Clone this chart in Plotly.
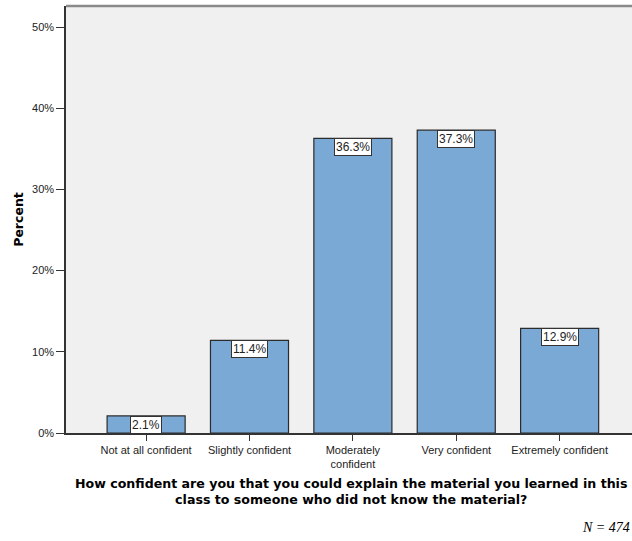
import plotly.graph_objects as go

categories = ["Not at all confident", "Slightly confident", "Moderately<br>confident",
              "Very confident", "Extremely confident"]
percents = [2.1, 11.4, 36.3, 37.3, 12.9]
y_ticks = [0, 10, 20, 30, 40, 50]
y_tick_labels = ["0%", "10%", "20%", "30%", "40%", "50%"]
x_title = ("How confident are you that you could explain the material you learned in this<br>"
           "class to someone who did not know the material?")
n_note = "N = 474"

fig = go.Figure()
fig.add_trace(go.Bar(
    x=categories, y=percents,
    marker=dict(color="#7BA9D6", line=dict(color="#2b2b2b", width=1.2)),
    width=0.755, hoverinfo="skip",
))

for c, v in zip(categories, percents):
    fig.add_annotation(x=c, y=v, xref="x", yref="y", yanchor="top", yshift=0,
                       text=f"{v:.1f}%", showarrow=False,
                       bgcolor="white", bordercolor="#333333", borderwidth=1, borderpad=1,
                       font=dict(family="Liberation Sans, Arial", size=12, color="#222"))

fig.add_annotation(x=0.503, y=-0.095, xref="paper", yref="paper", xanchor="center", yanchor="top",
                   text="<b>" + x_title + "</b>", showarrow=False,
                   font=dict(family="DejaVu Sans", size=12.6, color="black"))
fig.add_annotation(x=1.0, y=-0.2, xref="paper", yref="paper", xanchor="right", yanchor="top",
                   text="<i>" + n_note + "</i>", showarrow=False,
                   font=dict(family="Liberation Serif", size=14, color="black"))

fig.add_shape(type="line", xref="paper", yref="paper", x0=0, x1=1, y0=1, y1=1,
              line=dict(color="#8a8a8a", width=2.5))

fig.update_layout(
    width=632, height=541,
    margin=dict(l=66, r=0, t=6, b=108),
    paper_bgcolor="white", plot_bgcolor="#F0F0F0",
    showlegend=False,
    font=dict(family="Liberation Sans, Arial", color="#222"),
    xaxis=dict(type="category", range=[-0.775, 4.70], showgrid=False,
               showline=True, linecolor="#333", linewidth=1.5,
               ticks="outside", ticklen=6, tickcolor="#333",
               tickfont=dict(size=11, color="#222"), fixedrange=True),
    yaxis=dict(range=[0, 52.6], tickvals=y_ticks, ticktext=y_tick_labels,
               showgrid=False, zeroline=False, fixedrange=True,
               showline=True, linecolor="#333", linewidth=1.5,
               ticks="outside", ticklen=8, tickcolor="#333",
               tickfont=dict(size=11, color="#222"),
               title=dict(text="<b>Percent</b>", font=dict(family="DejaVu Sans", size=12.5, color="black"),
                          standoff=6)),
)

fig.write_html("out.html", config={"displayModeBar": False},
               post_script="document.body.style.margin='0';")
